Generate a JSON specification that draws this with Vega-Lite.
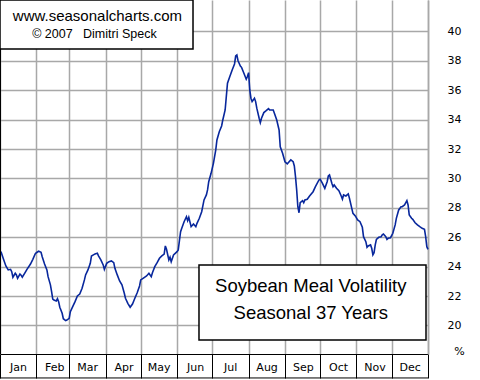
{
  "$schema": "https://vega.github.io/schema/vega-lite/v6.json",
  "width": 428,
  "height": 354,
  "autosize": "none",
  "padding": {"left": 0, "top": 0, "right": 52, "bottom": 26},
  "background": "white",
  "config": {"view": {"stroke": null}, "font": "DejaVu Sans"},
  "datasets": {
    "volatility": [
      {"day":0,"volatility":25.05},{"day":1,"volatility":24.98},{"day":3,"volatility":24.50},{"day":5,"volatility":24.05},{"day":7,"volatility":23.78},{"day":9,"volatility":23.82},{"day":10,"volatility":23.66},{"day":11,"volatility":23.28},{"day":13,"volatility":23.55},{"day":14,"volatility":23.44},{"day":15,"volatility":23.21},{"day":17,"volatility":23.50},{"day":18,"volatility":23.42},{"day":19,"volatility":23.28},{"day":21,"volatility":23.55},{"day":23,"volatility":23.82},{"day":26,"volatility":24.18},{"day":28,"volatility":24.50},{"day":30,"volatility":24.86},{"day":31,"volatility":24.95},{"day":33,"volatility":25.05},{"day":35,"volatility":24.98},{"day":36,"volatility":24.68},{"day":38,"volatility":24.18},{"day":40,"volatility":23.78},{"day":41,"volatility":23.32},{"day":43,"volatility":22.76},{"day":44,"volatility":22.30},{"day":45,"volatility":21.80},{"day":46,"volatility":21.73},{"day":48,"volatility":21.67},{"day":49,"volatility":21.82},{"day":50,"volatility":21.62},{"day":51,"volatility":21.24},{"day":53,"volatility":20.83},{"day":54,"volatility":20.46},{"day":56,"volatility":20.33},{"day":57,"volatility":20.37},{"day":59,"volatility":20.49},{"day":60,"volatility":20.94},{"day":62,"volatility":21.28},{"day":64,"volatility":21.62},{"day":66,"volatility":22.01},{"day":68,"volatility":22.14},{"day":70,"volatility":22.53},{"day":72,"volatility":23.10},{"day":73,"volatility":23.44},{"day":75,"volatility":23.78},{"day":77,"volatility":24.23},{"day":78,"volatility":24.73},{"day":80,"volatility":24.82},{"day":81,"volatility":24.86},{"day":83,"volatility":24.91},{"day":84,"volatility":24.73},{"day":86,"volatility":24.46},{"day":88,"volatility":24.12},{"day":89,"volatility":23.82},{"day":91,"volatility":24.23},{"day":93,"volatility":24.34},{"day":95,"volatility":24.39},{"day":97,"volatility":24.27},{"day":98,"volatility":23.89},{"day":100,"volatility":23.44},{"day":102,"volatility":23.03},{"day":104,"volatility":22.76},{"day":106,"volatility":22.19},{"day":107,"volatility":21.85},{"day":109,"volatility":21.51},{"day":111,"volatility":21.24},{"day":113,"volatility":21.46},{"day":115,"volatility":21.85},{"day":117,"volatility":22.23},{"day":119,"volatility":22.69},{"day":120,"volatility":23.10},{"day":122,"volatility":23.21},{"day":125,"volatility":23.37},{"day":127,"volatility":23.55},{"day":129,"volatility":23.32},{"day":130,"volatility":23.59},{"day":132,"volatility":24.00},{"day":134,"volatility":24.27},{"day":136,"volatility":24.57},{"day":138,"volatility":24.73},{"day":140,"volatility":24.86},{"day":141,"volatility":25.41},{"day":142,"volatility":25.18},{"day":144,"volatility":24.46},{"day":145,"volatility":24.64},{"day":146,"volatility":24.34},{"day":148,"volatility":24.80},{"day":151,"volatility":25.02},{"day":152,"volatility":25.14},{"day":154,"volatility":26.38},{"day":155,"volatility":26.61},{"day":157,"volatility":27.06},{"day":159,"volatility":27.40},{"day":160,"volatility":27.13},{"day":161,"volatility":27.36},{"day":163,"volatility":26.72},{"day":165,"volatility":26.90},{"day":167,"volatility":26.72},{"day":168,"volatility":26.95},{"day":170,"volatility":27.29},{"day":172,"volatility":27.74},{"day":174,"volatility":28.54},{"day":176,"volatility":28.88},{"day":177,"volatility":29.22},{"day":178,"volatility":29.78},{"day":180,"volatility":30.35},{"day":182,"volatility":31.03},{"day":184,"volatility":31.94},{"day":185,"volatility":32.62},{"day":187,"volatility":33.18},{"day":189,"volatility":33.57},{"day":190,"volatility":33.98},{"day":192,"volatility":34.66},{"day":193,"volatility":35.57},{"day":194,"volatility":36.48},{"day":196,"volatility":36.93},{"day":197,"volatility":37.16},{"day":198,"volatility":37.38},{"day":200,"volatility":37.79},{"day":201,"volatility":38.33},{"day":202,"volatility":38.40},{"day":203,"volatility":38.01},{"day":205,"volatility":37.65},{"day":206,"volatility":37.56},{"day":208,"volatility":37.16},{"day":210,"volatility":36.75},{"day":211,"volatility":36.93},{"day":212,"volatility":37.20},{"day":213,"volatility":36.02},{"day":214,"volatility":35.46},{"day":215,"volatility":35.23},{"day":217,"volatility":35.46},{"day":218,"volatility":35.23},{"day":219,"volatility":34.78},{"day":221,"volatility":34.10},{"day":222,"volatility":33.80},{"day":223,"volatility":34.10},{"day":225,"volatility":34.48},{"day":227,"volatility":34.61},{"day":229,"volatility":34.75},{"day":230,"volatility":34.66},{"day":233,"volatility":34.66},{"day":234,"volatility":34.44},{"day":236,"volatility":33.98},{"day":238,"volatility":33.30},{"day":239,"volatility":32.16},{"day":241,"volatility":31.71},{"day":243,"volatility":31.14},{"day":245,"volatility":30.99},{"day":246,"volatility":31.08},{"day":248,"volatility":31.26},{"day":250,"volatility":31.14},{"day":251,"volatility":30.85},{"day":252,"volatility":30.12},{"day":253,"volatility":29.22},{"day":254,"volatility":28.08},{"day":255,"volatility":27.67},{"day":256,"volatility":28.35},{"day":258,"volatility":28.49},{"day":259,"volatility":28.35},{"day":260,"volatility":28.54},{"day":262,"volatility":28.59},{"day":264,"volatility":28.81},{"day":267,"volatility":29.10},{"day":269,"volatility":29.44},{"day":272,"volatility":29.90},{"day":273,"volatility":29.95},{"day":275,"volatility":29.67},{"day":277,"volatility":29.33},{"day":279,"volatility":29.78},{"day":280,"volatility":30.17},{"day":281,"volatility":30.24},{"day":283,"volatility":29.67},{"day":284,"volatility":29.44},{"day":285,"volatility":29.56},{"day":287,"volatility":29.33},{"day":289,"volatility":29.17},{"day":291,"volatility":28.81},{"day":292,"volatility":28.59},{"day":293,"volatility":28.88},{"day":295,"volatility":28.81},{"day":297,"volatility":28.95},{"day":298,"volatility":28.65},{"day":300,"volatility":27.97},{"day":301,"volatility":27.63},{"day":303,"volatility":27.45},{"day":305,"volatility":27.18},{"day":307,"volatility":27.06},{"day":309,"volatility":26.68},{"day":310,"volatility":26.04},{"day":312,"volatility":25.70},{"day":313,"volatility":25.32},{"day":314,"volatility":25.41},{"day":316,"volatility":25.48},{"day":317,"volatility":25.25},{"day":318,"volatility":24.80},{"day":319,"volatility":24.95},{"day":320,"volatility":25.48},{"day":321,"volatility":25.86},{"day":323,"volatility":26.00},{"day":325,"volatility":26.04},{"day":326,"volatility":26.16},{"day":327,"volatility":26.22},{"day":329,"volatility":26.04},{"day":330,"volatility":25.86},{"day":331,"volatility":25.93},{"day":333,"volatility":25.97},{"day":335,"volatility":26.27},{"day":337,"volatility":26.84},{"day":338,"volatility":27.29},{"day":340,"volatility":27.86},{"day":342,"volatility":28.08},{"day":343,"volatility":28.08},{"day":345,"volatility":28.20},{"day":347,"volatility":28.49},{"day":348,"volatility":28.20},{"day":349,"volatility":27.52},{"day":351,"volatility":27.29},{"day":352,"volatility":27.22},{"day":354,"volatility":26.99},{"day":356,"volatility":26.84},{"day":358,"volatility":26.72},{"day":360,"volatility":26.61},{"day":362,"volatility":26.54},{"day":363,"volatility":26.04},{"day":364,"volatility":25.36},{"day":365,"volatility":25.18}
    ]
  },
  "layer": [
    {
      "data": {"name": "volatility"},
      "mark": {"type": "line", "color": "#08279c", "strokeWidth": 1.6},
      "encoding": {
        "x": {
          "field": "day", "type": "quantitative",
          "scale": {"domain": [0, 365], "nice": false, "zero": false},
          "axis": {
            "values": [0,31,59,90,120,151,181,212,243,273,304,334,365],
            "tickCount": 40,
            "grid": true, "gridColor": "#a8a8a8", "gridWidth": 1.5,
            "domain": true, "domainColor": "black", "domainWidth": 1,
            "ticks": true, "tickColor": "black", "tickSize": 24, "tickWidth": 1,
            "labelExpr": "datum.value < 365 ? timeFormat(datetime(2007, 0, 1 + datum.value), '%b') : ''",
            "labelOffset": 18, "labelPadding": -11, "labelBaseline": "middle", "labelAlign": "center",
            "labelFlush": false, "labelOverlap": false, "labelFontSize": 11, "labelColor": "black",
            "labelFont": "DejaVu Sans",
            "title": null
          }
        },
        "y": {
          "field": "volatility", "type": "quantitative",
          "scale": {"domain": [18.06, 42.14], "nice": false, "zero": false},
          "axis": {
            "orient": "right",
            "values": [20,22,24,26,28,30,32,34,36,38,40],
            "format": "d",
            "tickCount": 40,
            "grid": true, "gridColor": "#a8a8a8", "gridWidth": 1.5,
            "ticks": false, "tickSize": 0,
            "domain": true, "domainColor": "#a8a8a8", "domainWidth": 1.5,
            "labelPadding": 19, "labelFontSize": 11, "labelColor": "black", "labelFont": "DejaVu Sans",
            "labelOverlap": false, "labelFlush": false,
            "title": "%", "titleAngle": 0, "titleX": 31, "titleY": 351,
            "titleFontWeight": "normal", "titleFontSize": 11, "titleFont": "DejaVu Sans",
            "titleAlign": "center", "titleBaseline": "middle", "titleColor": "black"
          }
        }
      }
    },
    {
      "data": {"values": [{}]},
      "mark": {"type": "rule", "color": "black", "strokeWidth": 2},
      "encoding": {"x": {"datum": 0}}
    },
    {
      "data": {"values": [{}]},
      "mark": {"type": "rule", "color": "black", "strokeWidth": 1},
      "encoding": {"y": {"datum": 16.43}}
    },
    {
      "data": {"values": [{}]},
      "mark": {"type": "rect", "fill": "white", "stroke": "black", "strokeWidth": 1.5},
      "encoding": {"x": {"datum": 0}, "x2": {"datum": 164.6}, "y": {"datum": 42.14}, "y2": {"datum": 38.81}}
    },
    {
      "data": {"values": [{}]},
      "mark": {"type": "text", "text": "www.seasonalcharts.com", "font": "Liberation Sans", "fontSize": 15, "color": "black", "align": "center", "baseline": "middle"},
      "encoding": {"x": {"datum": 83.1}, "y": {"datum": 41.05}}
    },
    {
      "data": {"values": [{}]},
      "mark": {"type": "text", "text": "© 2007\u00a0\u00a0\u00a0Dimitri Speck", "font": "Liberation Sans", "fontSize": 12.5, "color": "black", "align": "center", "baseline": "middle"},
      "encoding": {"x": {"datum": 80.5}, "y": {"datum": 39.81}}
    },
    {
      "data": {"values": [{}]},
      "mark": {"type": "rect", "fill": "white", "stroke": "black", "strokeWidth": 1.5},
      "encoding": {"x": {"datum": 169.7}, "x2": {"datum": 363.3}, "y": {"datum": 24.12}, "y2": {"datum": 19.01}}
    },
    {
      "data": {"values": [{}]},
      "mark": {"type": "text", "text": "Soybean Meal Volatility", "font": "Liberation Sans", "fontSize": 18.5, "color": "black", "align": "center", "baseline": "middle"},
      "encoding": {"x": {"datum": 265}, "y": {"datum": 22.71}}
    },
    {
      "data": {"values": [{}]},
      "mark": {"type": "text", "text": "Seasonal 37 Years", "font": "Liberation Sans", "fontSize": 18.5, "color": "black", "align": "center", "baseline": "middle"},
      "encoding": {"x": {"datum": 265}, "y": {"datum": 20.83}}
    }
  ]
}
